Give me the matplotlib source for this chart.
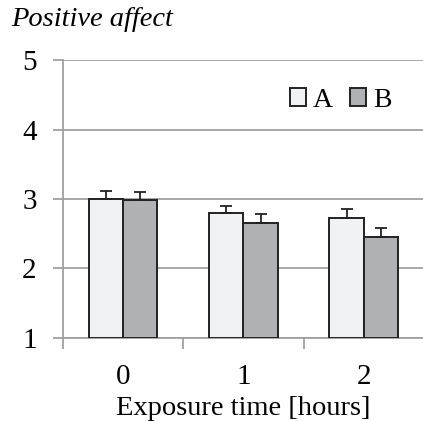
import numpy as np
import matplotlib.pyplot as plt

plt.rcParams['font.family'] = ['Liberation Serif', 'DejaVu Serif']

hours = ['0', '1', '2']
a_mean = [3.00, 2.79, 2.73]
a_err = [0.11, 0.11, 0.12]
b_mean = [2.98, 2.66, 2.45]
b_err = [0.12, 0.12, 0.13]

grid_col = '#a0a0a0'
x = np.arange(len(hours))
w = 0.285

fig = plt.figure(figsize=(4.23, 4.21), dpi=100)
ax = fig.add_axes([0.149, 0.198, 0.853, 0.659])

ax.bar(x - w / 2, np.array(a_mean) - 1, w, bottom=1, color='#f1f2f4',
       edgecolor='#222222', linewidth=1.4, label='A', zorder=3)
ax.bar(x + w / 2, np.array(b_mean) - 1, w, bottom=1, color='#b0b1b4',
       edgecolor='#222222', linewidth=1.4, label='B', zorder=3)
ax.errorbar(x - w / 2, a_mean, yerr=[np.zeros(3), a_err], fmt='none',
            ecolor='#222222', elinewidth=1.3, capsize=4, capthick=1.3, zorder=4)
ax.errorbar(x + w / 2, b_mean, yerr=[np.zeros(3), b_err], fmt='none',
            ecolor='#222222', elinewidth=1.3, capsize=4, capthick=1.3, zorder=4)

ax.set_xlim(-0.5, 2.5)
ax.set_ylim(1, 5)
ax.set_yticks([1, 2, 3, 4, 5])
ax.yaxis.grid(True, color=grid_col, linewidth=1.3, zorder=0)
ax.set_axisbelow(True)

ax.set_xticks([-0.5, 0.5, 1.5, 2.5])
ax.set_xticklabels([])
ax.set_xticks(x, minor=True)
ax.set_xticklabels(hours, minor=True, fontsize=21)
ax.tick_params(axis='x', which='major', direction='out', length=8,
               color=grid_col, width=1.3)
ax.tick_params(axis='x', which='minor', length=0, pad=19)
ax.tick_params(axis='y', direction='out', length=7, color=grid_col,
               width=1.3, labelsize=21, pad=12)

for s in ['top', 'right']:
    ax.spines[s].set_visible(False)
for s in ['left', 'bottom']:
    ax.spines[s].set_color(grid_col)
    ax.spines[s].set_linewidth(1.3)

ax.set_xlabel('Exposure time [hours]', fontsize=20.5, labelpad=4)
fig.text(0.026, 0.953, 'Positive affect', fontsize=20.5, style='italic',
         va='center', ha='left')

ax.legend(loc='upper right', bbox_to_anchor=(0.95, 0.95), ncol=2,
          frameon=False, fontsize=20, handlelength=0.6, handleheight=0.6,
          handletextpad=0.25, columnspacing=0.6, borderpad=0)

fig.savefig('out.png', dpi=100)
